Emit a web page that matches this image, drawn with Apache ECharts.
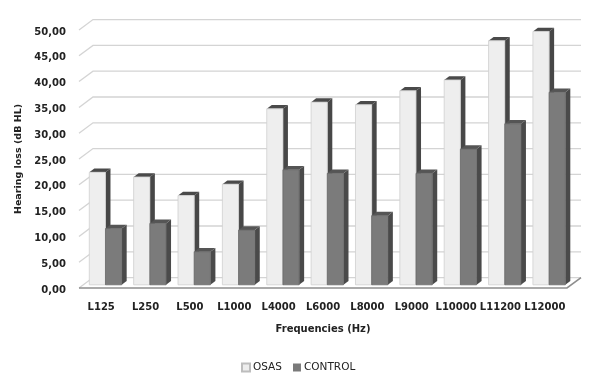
<!DOCTYPE html>
<html><head><meta charset="utf-8">
<style>html,body{margin:0;padding:0;background:#fff}#c{width:600px;height:387px}</style>
<script src="https://cdn.jsdelivr.net/npm/echarts@6/dist/echarts.min.js"></script>
</head><body><div id="c"></div>
<script>
const categories = ['L125','L250','L500','L1000','L4000','L6000','L8000','L9000','L10000','L11200','L12000'];
const osas = [21.8,20.9,17.3,19.5,34.1,35.4,34.9,37.6,39.7,47.3,49.1];
const control = [10.9,11.9,6.4,10.6,22.3,21.6,13.4,21.6,26.3,31.2,37.3];
const ticks = [0,5,10,15,20,25,30,35,40,45,50];

const font = '"DejaVu Sans", sans-serif';
const wallDx = 14, wallDy = 10.4;
const barDx = 4.3, barDy = 3.2, sideW = 5, sideH = 3.8;

function wall(params, api) {
  const cs = params.coordSys;
  const v = api.value(0);
  const y = api.coord([0, v])[1];
  const l = cs.x, r = cs.x + cs.width;
  const lineStyle = { stroke: '#d4d4d4', lineWidth: 1.3, fill: null };
  if (v === 0) {
    return { type: 'group', children: [
      { type: 'polyline', shape: { points: [[l, y], [l + wallDx, y - wallDy], [r + wallDx, y - wallDy]] }, style: lineStyle },
      { type: 'polyline', shape: { points: [[l, y], [r, y], [r + wallDx, y - wallDy]] }, style: { stroke: '#8e8e8e', lineWidth: 1.6, fill: null } }
    ]};
  }
  return { type: 'polyline', shape: { points: [[l, y], [l + wallDx, y - wallDy], [r + wallDx, y - wallDy]] }, style: lineStyle };
}

function bar(shift, face, edge, side, top) {
  return function (params, api) {
    const band = api.size([1, 0])[0];
    const w = band * 0.365;
    const p = api.coord([api.value(0), api.value(1)]);
    const b = api.coord([api.value(0), 0]);
    const x0 = p[0] + barDx + shift * w;
    const x1 = x0 + w;
    const yt = p[1] - barDy, yb = b[1] - barDy;
    return { type: 'group', children: [
      { type: 'polygon', shape: { points: [[x1, yb], [x1 + sideW, yb - sideH], [x1 + sideW, yt - sideH], [x1, yt]] }, style: { fill: side } },
      { type: 'polygon', shape: { points: [[x0, yt], [x0 + sideW, yt - sideH], [x1 + sideW, yt - sideH], [x1, yt]] }, style: { fill: top } },
      { type: 'rect', shape: { x: x0, y: yt, width: w, height: yb - yt }, style: { fill: face, stroke: edge, lineWidth: 0.8 } }
    ]};
  };
}

const chart = echarts.init(document.getElementById('c'), null, { renderer: 'canvas' });
chart.setOption({
  animation: false,
  backgroundColor: '#fff',
  grid: { left: 79, right: 33, top: 30, height: 258 },
  xAxis: {
    type: 'category', data: categories,
    axisLine: { show: false }, axisTick: { show: false }, splitLine: { show: false },
    axisLabel: { interval: 0, margin: 14, color: '#222', fontFamily: font, fontWeight: 'bold', fontSize: 10 },
    name: 'Frequencies (Hz)', nameLocation: 'middle', nameGap: 36,
    nameTextStyle: { color: '#222', fontFamily: font, fontWeight: 'bold', fontSize: 10 }
  },
  yAxis: {
    type: 'value', min: 0, max: 50, interval: 5,
    axisLine: { show: false }, axisTick: { show: false }, splitLine: { show: false },
    axisLabel: { margin: 13, formatter: v => '{a|' + v.toFixed(2).replace('.', ',') + '}',
      rich: { a: { color: '#222', fontFamily: font, fontWeight: 'bold', fontSize: 10, padding: [4, 0, 0, 0] } } },
    name: 'Hearing loss (dB HL)', nameLocation: 'middle', nameGap: 51,
    nameTextStyle: { color: '#222', fontFamily: font, fontWeight: 'bold', fontSize: 9.5 }
  },
  legend: {
    data: [{ name: 'OSAS', icon: 'rect' }, { name: 'CONTROL', icon: 'rect' }], left: 241, top: 362,
    itemWidth: 8, itemHeight: 8, itemGap: 11,
    textStyle: { color: '#222', fontFamily: font, fontSize: 10.5, padding: [0, 0, 0, -2] },
    padding: 0
  },
  series: [
    { type: 'custom', silent: true, clip: false, z: 1, renderItem: wall,
      data: ticks.map(t => [t]), encode: { y: 0 } },
    { type: 'custom', name: 'OSAS', clip: false, z: 2, itemStyle: { color: '#ededed', borderColor: '#bdbdbd', borderWidth: 0.8 },
      renderItem: bar(-1, '#eeeeee', '#cfcfcf', '#474747', '#4a4a4a'),
      data: osas.map((v, i) => [i, v]), encode: { x: 0, y: 1 } },
    { type: 'custom', name: 'CONTROL', clip: false, z: 3, itemStyle: { color: '#7a7a7a' },
      renderItem: bar(0, '#7b7b7b', '#6a6a6a', '#4a4a4a', '#555555'),
      data: control.map((v, i) => [i, v]), encode: { x: 0, y: 1 } }
  ]
});
</script></body></html>
